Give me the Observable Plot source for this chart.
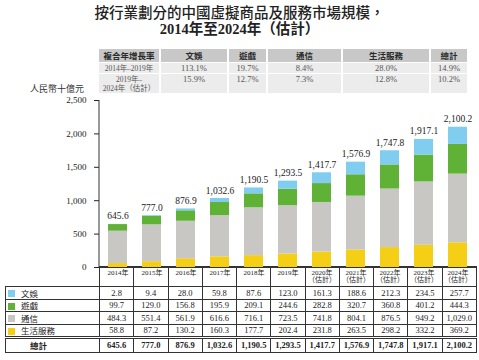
<!DOCTYPE html>
<html><head><meta charset="utf-8">
<script src="https://cdn.jsdelivr.net/npm/d3@7"></script>
<script src="https://cdn.jsdelivr.net/npm/@observablehq/plot@0.6"></script>
<style>
body{margin:0;background:#fff;}
#wrap{position:relative;width:479px;height:360px;overflow:hidden;font-family:"Liberation Serif","Noto Sans CJK TC",serif;color:#222;}
#title{position:absolute;left:0;top:4px;width:479px;text-align:center;font-size:14.5px;line-height:15.5px;white-space:nowrap;font-family:"Noto Sans CJK TC",sans-serif;font-weight:500;}
#title b{font-family:"Liberation Serif","Noto Sans CJK TC",serif;font-weight:bold;}
#cagr{position:absolute;left:97px;top:48px;border-collapse:separate;border-spacing:2px 1.5px;table-layout:fixed;}
#cagr td{padding:0;text-align:center;font-size:8.5px;color:#555;line-height:9px;}
#cagr tr.h td{background:#c8c8c8;color:#2a2a2a;font-family:"Noto Sans CJK TC",sans-serif;font-weight:bold;font-size:8.5px;height:13px;}
#cagr tr.r td{background:#ececec;}
#cagr tr.r1 td{height:10px;}
#cagr tr.r2 td{height:18px;vertical-align:top;padding-top:1px;}
#cagr td.lab{font-size:7.5px;}
#ylab{position:absolute;left:30px;top:84px;font-family:"Noto Sans CJK TC",sans-serif;font-size:9px;line-height:10px;color:#333;}
#chart{position:absolute;left:0;top:0;}
#tbl{position:absolute;left:5px;top:266px;width:471px;border-collapse:collapse;table-layout:fixed;}
#tbl td{border:1px solid #333;padding:0;text-align:center;font-size:8.5px;height:11.5px;line-height:10px;color:#222;}
#tbl tr.yr td{height:19px;}
#tbl tr.yr td.blank{border:none;}
#tbl td.name{text-align:left;font-family:"Noto Sans CJK TC",sans-serif;font-size:8.5px;padding-left:2px;}
#tbl td.name span.sw{display:inline-block;width:7px;height:7px;margin-right:6px;vertical-align:-0.5px;}
#tbl tr.tot td{border-top:3px double #333;font-weight:bold;height:12.5px;}
#tbl tr.tot td.name{padding-left:24px;font-weight:bold;}
</style></head><body>
<div id="wrap">
  <div id="title">按行業劃分的中國虛擬商品及服務市場規模，<br><b>2014年至2024年（估計）</b></div>
  <table id="cagr"></table>
  <div id="ylab">人民幣十億元</div>
  <table id="tbl"></table>
  <div id="chart"></div>
</div>
<script>
// ---- data ----
const years = ["2014年","2015年","2016年","2017年","2018年","2019年","2020年","2021年","2022年","2023年","2024年"];
const estimated = [false,false,false,false,false,false,true,true,true,true,true];
const categories = ["文娛","遊戲","通信","生活服務"];
const colors = ["#80cdef","#5fb236","#c9c7c4","#f4cf16"];
const ent   = [2.8, 9.4, 28.0, 59.8, 87.6, 123.0, 161.3, 188.6, 212.3, 234.5, 257.7];
const games = [99.7, 129.0, 156.8, 195.9, 209.1, 244.6, 282.8, 320.7, 360.8, 401.2, 444.3];
const comm  = [484.3, 551.4, 561.9, 616.6, 716.1, 723.5, 741.8, 804.1, 876.5, 949.2, 1029.0];
const life  = [58.8, 87.2, 130.2, 160.3, 177.7, 202.4, 231.8, 263.5, 298.2, 332.2, 369.2];
const totals = [645.6, 777.0, 876.9, 1032.6, 1190.5, 1293.5, 1417.7, 1576.9, 1747.8, 1917.1, 2100.2];
const yTicks = [0, 500, 1000, 1500, 2000, 2500];
const cagrHeaders = ["複合年增長率","文娛","遊戲","通信","生活服務","總計"];
const cagrPeriods = ["2014年–2019年","2019年–<br>2024年（估計）"];
const cagr1419 = ["113.1%","19.7%","8.4%","28.0%","14.9%"];
const cagr1924 = ["15.9%","12.7%","7.3%","12.8%","10.2%"];
const totalLabel = "總計";

const fmt = d3.format(",.1f");
const series = {"文娛": ent, "遊戲": games, "通信": comm, "生活服務": life};

// ---- CAGR table ----
const cagrWidths = [60,66,37,73,86,36];
{
  const t = document.getElementById("cagr");
  let html = "<colgroup>" + cagrWidths.map(w => `<col style="width:${w}px">`).join("") + "</colgroup>";
  html += `<tr class="h">${cagrHeaders.map(h => `<td>${h}</td>`).join("")}</tr>`;
  html += `<tr class="r r1"><td class="lab">${cagrPeriods[0]}</td>${cagr1419.map(v => `<td>${v}</td>`).join("")}</tr>`;
  html += `<tr class="r r2"><td class="lab">${cagrPeriods[1]}</td>${cagr1924.map(v => `<td>${v}</td>`).join("")}</tr>`;
  t.innerHTML = html;
}

// ---- bottom data table ----
{
  const t = document.getElementById("tbl");
  const colW = 377 / years.length;
  let html = `<colgroup><col style="width:94px">` + years.map(() => `<col style="width:${colW}px">`).join("") + "</colgroup>";
  html += `<tr class="yr"><td class="blank"></td>${years.map(() => "<td></td>").join("")}</tr>`;
  categories.forEach((c, k) => {
    html += `<tr><td class="name"><span class="sw" style="background:${colors[k]}"></span>${c}</td>${series[c].map(v => `<td>${fmt(v)}</td>`).join("")}</tr>`;
  });
  html += `<tr class="tot"><td class="name">${totalLabel}</td>${totals.map(v => `<td>${fmt(v)}</td>`).join("")}</tr>`;
  t.innerHTML = html;
}

// ---- chart ----
const stackOrder = ["生活服務","通信","遊戲","文娛"];
const rows = years.flatMap((y, i) => stackOrder.map(c => ({year: y, cat: c, value: series[c][i]})));
const totalRows = years.map((y, i) => ({year: y, total: totals[i]}));

const axisLine = (index, scales, values, dimensions) => {
  const g = d3.create("svg:g");
  const x0 = dimensions.marginLeft;
  g.append("line").attr("x1", x0).attr("x2", x0)
    .attr("y1", scales.y(yTicks[0])).attr("y2", scales.y(yTicks[yTicks.length - 1]))
    .attr("stroke", "#333").attr("stroke-width", 1);
  return g.node();
};

const plot = Plot.plot({
  width: 479, height: 287,
  marginLeft: 99, marginRight: 3, marginTop: 100, marginBottom: 20,
  style: {background: "transparent", fontFamily: "Liberation Serif, Noto Sans CJK TC, serif", fontSize: "9px", color: "#222"},
  x: {domain: years, paddingInner: 0.44, paddingOuter: 0.22},
  y: {domain: [0, 2500]},
  color: {domain: categories, range: colors},
  marks: [
    Plot.barY(rows, {x: "year", y: "value", fill: "cat"}),
    Plot.text(totalRows, {x: "year", y: "total", text: d => fmt(d.total), dy: -8, fontSize: 9.5, fill: "#222"}),
    Plot.ruleY([0], {stroke: "#333"}),
    Plot.axisY({ticks: yTicks, tickFormat: d3.format(","), tickSize: 5, tickPadding: 8, label: null, fontSize: 9}),
    Plot.axisX({tickSize: 0, tickPadding: 3, label: null, fontSize: 7,
      tickFormat: d => estimated[years.indexOf(d)] ? d + "\n（估計）" : d}),
    axisLine
  ]
});
document.getElementById("chart").appendChild(plot);
</script>
</body></html>
